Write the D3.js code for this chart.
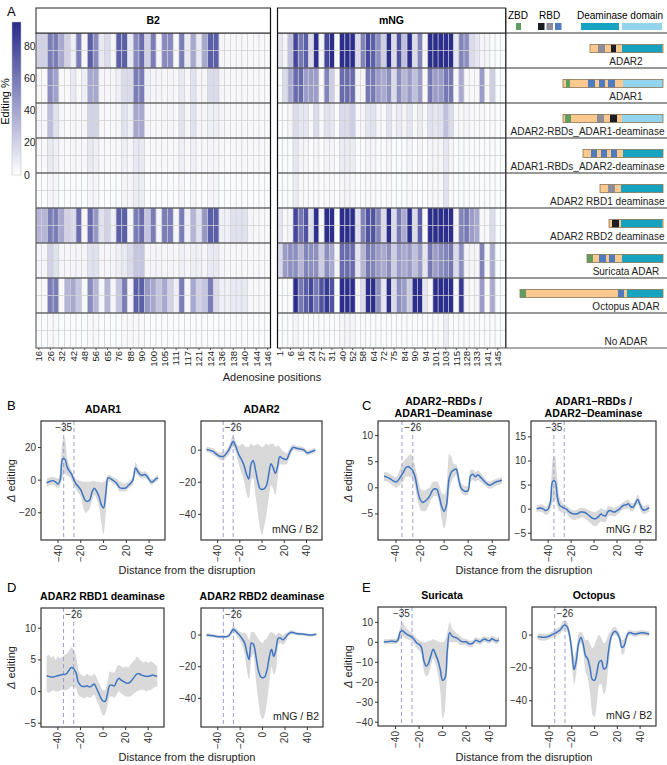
<!DOCTYPE html>
<html><head><meta charset="utf-8">
<script src="https://cdn.jsdelivr.net/npm/d3@7"></script>
<style>
body{margin:0;background:#fff;}
svg{font-family:"Liberation Sans",Arial,Helvetica,sans-serif;}
</style></head><body>
<svg id="fig" width="667" height="765"></svg>
<script>
// ================= DATA =================
const constructs = ["ADAR2","ADAR1","ADAR2-RBDs_ADAR1-deaminase","ADAR1-RBDs_ADAR2-deaminase","ADAR2 RBD1 deaminase","ADAR2 RBD2 deaminase","Suricata ADAR","Octopus ADAR","No ADAR"];
const b2Ticks = ["16","26","32","42","48","56","65","76","88","90","100","105","111","117","121","124","136","138","140","144","146"];
const mngTicks = ["1","6","16","24","27","31","40","52","58","64","72","75","84","90","94","101","103","115","128","133","141","145"];
const colorbarTicks = [0,20,40,60,80];

// editing % per column (B2 target, 41 columns)
const b2_ADAR2   = [20,20,58,58,39,20,7,58,4,72,52,10,16,4,72,72,10,52,65,20,58,4,52,52,3,58,10,39,10,39,72,72,4,3,3,3,3,3,3,3,3];
const b2_ADAR1   = [3,3,50,42,3,3,10,3,7,39,39,4,4,4,7,16,16,58,58,7,4,4,4,4,3,10,4,13,4,4,16,16,4,3,3,3,3,3,3,3,3];
const b2_A2R_A1D = [4,4,29,13,4,3,4,3,4,20,20,3,3,3,4,13,7,39,39,4,3,3,4,4,3,13,4,13,4,4,7,7,4,3,3,3,3,3,3,3,3];
const b2_A1R_A2D = [3,3,10,7,3,3,4,3,3,10,7,3,3,3,3,7,4,10,10,3,3,3,3,3,3,7,3,7,3,3,4,4,3,3,3,3,3,3,3,3,3];
const b2_RBD1    = [2,2,5,4,2,2,2,2,2,5,4,2,2,2,2,5,4,8,8,2,2,2,2,2,2,4,2,4,2,2,4,4,2,2,2,2,2,2,2,2,2];
const b2_RBD2    = [33,33,58,58,39,20,16,65,4,65,46,13,20,7,72,72,4,58,65,26,58,4,58,58,4,58,7,33,13,46,72,72,7,7,13,13,13,4,3,3,3];
const b2_Suri    = [4,4,20,13,4,4,4,4,4,13,13,4,4,4,7,10,16,26,26,4,4,4,4,4,3,7,4,7,7,4,10,10,4,3,3,3,3,3,3,3,3];
const b2_Octo    = [3,3,58,58,3,33,39,26,3,52,33,4,33,4,26,58,4,72,72,46,39,26,39,20,7,58,4,39,20,26,58,16,7,7,10,10,10,3,3,3,3];
const b2_None    = [2,2,3,3,2,2,2,2,2,3,3,2,2,2,2,3,3,3,3,2,2,2,2,2,2,2,2,2,2,2,2,2,2,2,2,2,2,2,2,2,2];

// editing % per column (mNG target, 44 columns)
const mng_ADAR2   = [11,5,28,82,60,72,16,93,5,82,93,3,93,93,93,16,55,82,72,50,22,93,16,77,28,93,16,55,5,93,93,93,93,93,11,55,50,16,11,5,5,2,2,2];
const mng_ADAR1   = [2,16,38,66,66,44,44,44,3,55,22,3,66,66,66,5,5,60,60,44,38,50,16,50,33,44,28,44,3,60,44,44,60,60,3,38,3,3,3,44,3,22,2,2];
const mng_A2R_A1D = [2,2,5,16,11,11,3,16,3,13,11,2,16,16,22,3,5,11,13,5,3,13,5,9,5,11,3,9,3,13,11,13,28,16,3,3,5,3,3,3,2,3,2,2];
const mng_A1R_A2D = [2,2,2,11,5,5,2,5,2,5,5,2,9,9,9,2,2,5,5,2,2,5,2,2,2,5,2,5,2,5,5,5,11,5,2,2,2,2,2,2,2,2,2,2];
const mng_RBD1    = [2,2,2,9,3,3,2,3,2,3,3,2,5,5,3,2,2,3,3,2,2,3,2,2,2,3,2,2,2,3,3,3,13,3,2,2,2,2,2,2,2,2,2,2];
const mng_RBD2    = [11,3,5,82,60,77,13,93,3,93,93,2,93,93,93,13,55,77,77,55,16,93,16,60,38,93,16,72,3,93,93,93,93,93,5,55,60,44,38,3,3,16,2,2];
const mng_Suri    = [16,44,50,50,33,55,50,50,22,50,38,5,66,66,66,11,33,60,55,44,38,50,22,44,38,44,28,44,11,60,44,50,55,60,16,50,5,5,5,55,3,38,2,2];
const mng_Octo    = [2,2,2,93,60,72,82,60,77,88,77,2,93,93,93,5,16,93,93,50,11,93,16,50,44,22,93,93,11,3,93,93,93,93,3,88,5,3,5,44,2,38,2,2];
const mng_None    = [2,2,2,5,2,2,2,2,2,2,2,2,5,5,5,2,2,2,2,2,2,2,2,2,2,2,2,2,2,2,2,2,9,2,2,2,2,2,2,2,2,2,2,2];

// construct domain architecture: [domain type, length in residues], N -> C
const dom_ADAR2   = [["pe",80],["gr",70],["pe",60],["bk",50],["pe",60],["te",400],["en",10]];
const dom_ADAR1   = [["pe",30],["zb",40],["pe",180],["bl",70],["pe",40],["bl",60],["pe",30],["bl",70],["pe",80],["lb",400]];
const dom_A2R_A1D = [["pe",20],["zb",60],["pe",260],["gr",70],["pe",60],["bk",70],["pe",50],["lb",410]];
const dom_A1R_A2D = [["pe",80],["bl",60],["pe",40],["bl",60],["pe",40],["bl",60],["pe",60],["te",400]];
const dom_RBD1    = [["pe",80],["gr",70],["pe",60],["te",420]];
const dom_RBD2    = [["pe",30],["bk",70],["pe",20],["te",410],["en",10]];
const dom_Suri    = [["zb",60],["pe",60],["bl",70],["pe",30],["bl",60],["pe",70],["te",410]];
const dom_Octo    = [["zb",60],["pe",920],["bl",60],["pe",30],["te",360]];
const dom_None    = [];

// Delta editing (mNG / B2) vs distance from the disruption
const xs = [-50,-48,-46,-44,-42,-40,-38,-36,-34,-32,-30,-28,-26,-24,-22,-20,-18,-16,-14,-12,-10,-8,-6,-4,-2,0,2,4,6,8,10,12,14,16,18,20,22,24,26,28,30,32,34,36,38,40,42,44,46,48];

const adar1Mean = [-1.6,-1,-0.5,-0.3,-1.2,-2.4,0.5,13,13,8,5.5,3.5,0,-2.5,-4,-6,-9.5,-12.5,-13,-12,-7,-5,-7,-10,-15,-17,-8,1.5,1,0,-1,-2.5,-4.5,-5,-5,-4.5,-3,-1.8,0.5,7.5,5.5,3.5,3,3.5,2.5,0.5,-1.2,-0.5,0.8,1.4];
const adar1Hi   = [1,1.5,2,2,1.5,1,6,24,26,14,9,6,2.5,0.5,0,-0.5,-1,-1,-1,-1,-0.5,-0.5,-1,-1,-1.5,-1,0,3.5,3,2,1.5,0.5,-1,-1.5,-2,-1.5,-1,0.5,3,11,8,6,5,5.5,4.5,2.5,0.5,1,2.5,3];
const adar1Lo   = [-4,-3.5,-3,-3,-4,-5,-3,2,4,3,2,0,-3,-6,-8,-10,-16,-20,-19,-17,-12,-9,-12,-16,-26,-33,-20,-1,-1,-2,-3,-4.5,-7,-7,-7,-6.5,-5,-4,-2,4,3,1.5,1,1.5,0.5,-1.5,-3,-2,-1,0];

const adar2Mean = [0.4,0.2,-0.3,-0.8,-2,-3,-3.8,-4,-3.5,-2,0,3,5.5,3,-1,-4,-6.5,-10,-15,-18,-9,-6.5,-12,-19,-23.8,-24.5,-24,-22,-15,-8.5,-11,-14.5,-10,-4,-5,-5.5,-5.8,-3,0,1.7,1.5,1,0.8,0.5,0,-1.5,-1.6,-1,-0.5,0];
const adar2Hi   = [2,2,1.5,1,0,-1,-1.5,-1.5,-1,0.5,2.5,6,9,6,3,3,4,3,2,2,4,3,3,4,3,2,3,4,3,4,4,2,3,2,0,-1,-2,0,2.5,3.5,3,2.5,2.5,2,1.5,0,0,0.5,1,1.5];
const adar2Lo   = [-1,-1.5,-2,-3,-4,-5,-6,-6.5,-6,-4.5,-3,0,2,-1,-6,-11,-15,-20,-27,-30,-20,-17,-28,-38,-48,-53,-47,-40,-30,-22,-24,-28,-18,-9,-9,-9,-9,-6,-2.5,0,0,-0.5,-1,-1,-1.5,-3,-3,-2.5,-2,-1.5];

const a2rA1dMean = [2.2,2.1,1.9,1.6,1.3,1.1,1.5,2.2,2.9,3.8,4.1,3.8,3.3,2,-0.5,-2.2,-2.8,-2.6,-2.2,-1.6,-0.6,-0.2,-0.3,-1.7,-3.6,-4.5,-3.3,1.5,3,3.4,3.6,1.8,0,-0.5,-0.7,-0.5,2.3,2.6,2.1,2.5,2.1,1.6,1.1,0.7,0.5,0.7,1,1.2,1.3,1.5];
const a2rA1dHi   = [3,3,2.8,2.5,2.2,2,2.8,4,5,5.5,6,6.5,5.5,4,2,0,-0.5,-0.5,-0.2,0,1,1.2,1.2,0.5,-1,-1.3,0,6.5,6,4.5,4.5,3,1,0.5,0.3,0.5,3.5,3.5,3,3.3,3,2.3,1.8,1.3,1.2,1.4,1.6,1.8,1.9,2];
const a2rA1dLo   = [1.3,1.2,1,0.7,0.3,0,0.3,0.8,1.2,2,2.2,2,1.5,0,-2.5,-4,-4.5,-4.5,-4,-3,-2,-1.5,-1.5,-3,-6,-7.8,-6,-1,1,2,2.5,0.5,-0.8,-1.3,-1.5,-1.3,1,1.5,1.2,1.5,1.2,0.8,0.4,0,-0.2,0,0.3,0.5,0.6,0.8];

const a1rA2dMean = [0.1,0.2,0.2,0,-0.3,0,1.5,5.8,5.8,2.5,0.8,0.5,0.2,0,-0.5,-0.8,-1,-1,-0.9,-0.6,-0.6,-0.7,-1,-1.4,-1.8,-2,-1.9,-1.5,-1,-1.3,-1.4,-0.5,-0.3,-0.5,-0.6,-0.3,0,0.5,0.8,0.9,1.1,0.5,0.4,1.2,2,1,0,-0.2,0,0.3];
const a1rA2dHi   = [0.8,0.9,1,0.8,0.5,1,3,10.5,11,6,2.5,1.5,1,0.7,0.3,0,-0.2,-0.2,0,0.3,0.3,0.2,0,-0.3,-0.5,-0.6,-0.5,-0.2,0.2,0,-0.2,0.5,0.6,0.4,0.3,0.5,0.8,1.2,1.6,1.8,2,1.3,1.2,2,3,2,0.8,0.6,0.8,1];
const a1rA2dLo   = [-0.6,-0.5,-0.6,-0.8,-1.2,-1,0,1.5,2,0.5,-0.5,-0.7,-0.7,-0.9,-1.5,-2,-2.2,-2.2,-2,-1.8,-1.7,-2,-2.3,-2.7,-3.2,-3.5,-3.5,-3,-2.5,-2.7,-2.7,-1.6,-1.3,-1.4,-1.5,-1.1,-0.8,-0.3,0,0,0.2,-0.4,-0.5,0.4,1,0,-0.8,-1,-0.8,-0.5];

const rbd1Mean = [2.5,2.4,2.3,2.3,2.4,2.5,2.6,2.7,2.7,2.9,3.4,3.8,3.6,3,1.5,1,0.8,0.8,0.9,0.7,0.9,1.2,0.6,-0.2,-1,-1.5,-1.5,-0.3,1,1,0.9,1.6,2.1,1.8,1.6,1.4,1.3,1.5,1.9,2.4,2.8,2.8,2.6,2.5,2.4,2.4,2.5,2.6,2.5,2.4];
const rbd1Hi   = [5.5,5.8,5.3,5.6,5,5.5,5.3,5.5,5.8,6,6.5,7,6.5,5.8,3.5,2.8,2.5,2.5,2.8,2.5,2.5,2.8,2.3,1.5,0.8,0.2,0.3,1.5,3.2,3,3,3.8,4.2,4,3.8,4,3.8,4.2,4.6,5,5.5,5.2,4.8,4.6,4.8,4.5,4.8,4.6,4.3,4];
const rbd1Lo   = [0,-0.2,0,0.2,0,0,0.2,0.3,0.2,0.3,0.5,0.8,0.8,0.5,-0.5,-0.8,-1,-1,-0.8,-1,-0.8,-0.5,-1.2,-2,-3,-3.8,-3.5,-2.2,-0.8,-0.8,-1,-0.5,0,-0.3,-0.5,-0.8,-0.8,-0.8,-0.5,-0.2,0,0.2,0.3,0.3,0,0.2,0.2,0.5,0.7,0.8];

const rbd2Mean = [0,-0.1,-0.3,-0.5,-0.8,-1,-1,-1,-1,-1,-0.3,1.8,3.6,2.5,1,-0.5,-2.5,-5,-11,-15.5,-5,-6,-13,-21.5,-26,-27,-26.3,-22,-14,-9,-13.5,-9,-2,-1.8,-3,-2,0,1.2,1.7,1.4,1,0.8,0.7,0.6,0.4,0.2,0,0,0.3,0.6];
const rbd2Hi   = [1,1,0.8,0.5,0.3,0,0,0,0,0,1,3.5,6,4.5,3,2,1.5,1.5,0,-3,2,2,0,-2,-4,-5,-3,-2,1,2,1,0,1.5,1,0,1,1.5,2.5,3,2.5,2,1.8,1.6,1.5,1.3,1,0.8,0.8,1.2,1.5];
const rbd2Lo   = [-1,-1.2,-1.3,-1.6,-1.8,-2,-2.2,-2.2,-2,-2,-1.5,0,1.5,0.5,-1.5,-3.5,-7,-12,-22,-28,-14,-12,-28,-40,-50,-53,-50,-42,-30,-20,-25,-22,-6,-5,-6,-5,-2,-0.3,0.3,0.3,0,-0.2,-0.3,-0.3,-0.5,-0.8,-1,-0.8,-0.6,-0.3];

const suriMean = [0.2,0.3,0.4,0.5,0.5,0.3,1.2,5.2,5.8,4.7,3.9,3.3,2.6,1.3,-0.3,-1,-2.5,-9,-12,-10.5,-6.7,-3.5,-6,-9,-13.5,-19,-18,-4,4.8,3.2,2.6,2.2,1.3,0.5,0.3,0.3,-0.6,-0.8,-0.3,1,0.7,0.3,1.2,1.7,1,0.8,1.8,1.2,0.7,1.3];
const suriHi   = [1.5,1.5,1.6,1.8,1.8,1.6,3,8,10,8,6.5,5.5,4.8,3.5,2,1,0.5,0,0,0.5,1,1.5,1,0.5,0,0,1,5,10,7,5.5,4.5,3.5,2.5,1.8,1.8,1,0.8,1.2,2.5,2.2,1.8,2.8,3.2,2.5,2.3,3.3,2.7,2.2,2.8];
const suriLo   = [-1,-1,-0.8,-0.8,-0.8,-1,-0.5,1.5,3,2,1.5,1,0.5,-1,-3,-4,-6,-14,-17,-16,-12,-8,-11,-16,-24,-38,-34,-14,0,0,0,0,-0.8,-1.5,-1.3,-1.2,-2.2,-2.5,-1.8,-0.5,-0.8,-1.2,-0.3,0.2,-0.5,-0.7,0.3,-0.3,-0.8,-0.2];

const octoMean = [-1,-1.1,-1.3,-1.4,-1.1,-0.7,0,0.7,1.3,2.3,3.3,5.3,6.2,5,0,-10,-21,-15.5,-5,-1.5,-5.5,-12.5,-14.5,-20,-27,-27.5,-23,-16.5,-15.5,-20.5,-20,-11,-2.5,1.2,2.4,1,-2,-7.5,-6.5,-1.3,1.3,1.4,0.8,0.6,1,1.3,1.4,1.2,1,0.7];
const octoHi   = [1,1,0.8,0.6,0.8,1,2,2.8,3.5,4.5,5.5,8,9,8,3,-3,-13,-8,1,2,0,-3,-3,-5,-8,-6,-2,0,-2,-5,-4,0,2,4.5,5,3.5,1,-3,-2.5,1,3,3,2.5,2.3,2.6,2.9,3,2.8,2.5,2.2];
const octoLo   = [-3,-3.2,-3.4,-3.5,-3,-2.5,-2,-1.5,-1,0,1,2.5,3.5,2,-3,-18,-30,-23,-10,-5,-10,-22,-26,-35,-48,-50,-42,-30,-30,-36,-33,-20,-8,-0.5,0,-1,-4,-12,-11,-4,-0.5,-0.2,-0.8,-1,-0.6,-0.3,-0.2,-0.4,-0.5,-0.8];

// ================= DRAWING =================
const svg = d3.select("#fig");
const fill = d3.scaleLinear().domain([0,95]).range(["#ffffff","#272a8c"]).interpolate(d3.interpolateRgb).clamp(true);
const fmt = t => t < 0 ? "\u2212" + Math.abs(t) : String(t);

// ---- Panel A ----
svg.append("text").attr("x",7).attr("y",16).attr("font-size",13).text("A");

// colour bar
const cb = d3.scaleLinear().domain([0,95]).range([175,22]);
const defs = svg.append("defs");
const lg = defs.append("linearGradient").attr("id","cbg").attr("x1",0).attr("y1",1).attr("x2",0).attr("y2",0);
d3.range(0,1.0001,0.1).forEach(t=>lg.append("stop").attr("offset",t).attr("stop-color",fill(t*95)));
svg.append("rect").attr("x",12).attr("y",cb(95)).attr("width",9).attr("height",cb(0)-cb(95)).attr("fill","url(#cbg)").attr("stroke","#bbb").attr("stroke-width",0.5);
colorbarTicks.forEach(t=>{
  svg.append("text").attr("x",24).attr("y",cb(t)).attr("dy","0.35em").attr("font-size",10.5).attr("fill","#222").text(t);
});
svg.append("text").attr("transform",`translate(9,${(cb(0)+cb(95))/2+3}) rotate(-90)`).attr("text-anchor","middle").attr("font-size",11).text("Editing %");

const hmTop = 33, facetH = 35;
const yF = d3.scaleBand().domain(constructs).range([hmTop, hmTop + facetH*constructs.length]);
const hmBottom = hmTop + facetH*constructs.length;
const b2Rows = [b2_ADAR2,b2_ADAR1,b2_A2R_A1D,b2_A1R_A2D,b2_RBD1,b2_RBD2,b2_Suri,b2_Octo,b2_None];
const mngRows = [mng_ADAR2,mng_ADAR1,mng_A2R_A1D,mng_A1R_A2D,mng_RBD1,mng_RBD2,mng_Suri,mng_Octo,mng_None];
const hmPanels = [
  {name:"B2", x0:36, x1:270.5, rows:b2Rows, ticks:b2Ticks},
  {name:"mNG", x0:277.5, x1:505.5, rows:mngRows, ticks:mngTicks}
];
hmPanels.forEach(p=>{
  const n = p.rows[0].length;
  const xb = d3.scaleBand().domain(d3.range(n)).range([p.x0,p.x1]);
  const g = svg.append("g");
  constructs.forEach((c,ci)=>{
    [0,1].forEach(rep=>{
      g.selectAll(null).data(p.rows[ci]).enter().append("rect")
        .attr("x",(d,i)=>xb(i)).attr("y",yF(c)+rep*facetH/2)
        .attr("width",xb.bandwidth()).attr("height",facetH/2)
        .attr("fill",d=>fill(d)).attr("stroke","#d0d0d0").attr("stroke-width",0.6);
    });
  });
  constructs.forEach((c,ci)=>{ if(ci>0) g.append("line").attr("x1",p.x0).attr("x2",p.x1).attr("y1",yF(c)).attr("y2",yF(c)).attr("stroke","#333").attr("stroke-width",1); });
  g.append("rect").attr("x",p.x0).attr("y",hmTop).attr("width",p.x1-p.x0).attr("height",hmBottom-hmTop).attr("fill","none").attr("stroke","#555").attr("stroke-width",1);
  g.append("rect").attr("x",p.x0).attr("y",8).attr("width",p.x1-p.x0).attr("height",hmTop-8).attr("fill","#fff").attr("stroke","#222").attr("stroke-width",1);
  g.append("text").attr("x",(p.x0+p.x1)/2).attr("y",24).attr("text-anchor","middle").attr("font-size",10.5).attr("font-weight","bold").text(p.name);
  d3.range(0,n,2).forEach((ci,k)=>{
    const cx = xb(ci)+xb.bandwidth()/2;
    g.append("line").attr("x1",cx).attr("x2",cx).attr("y1",hmBottom).attr("y2",hmBottom+2).attr("stroke","#555");
    g.append("text").attr("transform",`translate(${cx},${hmBottom+3}) rotate(-90)`).attr("text-anchor","end").attr("dy","0.35em").attr("font-size",9.5).attr("fill","#222").text(p.ticks[k]);
  });
});
[270.5,277.5].forEach(x=>svg.append("line").attr("x1",x).attr("x2",x).attr("y1",8).attr("y2",hmBottom).attr("stroke","#111").attr("stroke-width",1.2));
svg.append("text").attr("x",272).attr("y",381).attr("text-anchor","middle").attr("font-size",11).attr("fill","#222").text("Adenosine positions");

// ---- construct panel ----
const domColor = {pe:"#fbc98d", zb:"#5e9e5e", gr:"#8c8c9c", bk:"#1d1d25", bl:"#4f7cc0", te:"#16a3bf", lb:"#91d4ec", en:"#d9b77e"};
const rp = svg.append("g");
rp.append("line").attr("x1",506).attr("x2",506).attr("y1",8).attr("y2",hmBottom).attr("stroke","#333").attr("stroke-width",1);
constructs.forEach((c,ci)=>{ rp.append("line").attr("x1",506).attr("x2",667).attr("y1",yF(c)).attr("y2",yF(c)).attr("stroke","#333").attr("stroke-width",1); });
rp.append("line").attr("x1",506).attr("x2",667).attr("y1",hmBottom).attr("y2",hmBottom).attr("stroke","#555").attr("stroke-width",1);
rp.append("text").attr("x",508).attr("y",19).attr("font-size",10).text("ZBD");
rp.append("rect").attr("x",516).attr("y",23).attr("width",5).attr("height",7).attr("fill",domColor.zb);
rp.append("text").attr("x",539).attr("y",19).attr("font-size",10).text("RBD");
["bk","gr","bl"].forEach((k,i)=>rp.append("rect").attr("x",538+i*8.5).attr("y",23).attr("width",6.5).attr("height",7).attr("fill",domColor[k]));
rp.append("text").attr("x",577).attr("y",19).attr("font-size",10).text("Deaminase domain");
rp.append("rect").attr("x",581).attr("y",23).attr("width",38).attr("height",7).attr("fill",domColor.te);
rp.append("rect").attr("x",622).attr("y",23).attr("width",40).attr("height",7).attr("fill",domColor.lb);

const doms = [dom_ADAR2,dom_ADAR1,dom_A2R_A1D,dom_A1R_A2D,dom_RBD1,dom_RBD2,dom_Suri,dom_Octo,dom_None];
const aaScale = d3.scaleLinear().domain([0,1430]).range([0,143]);
const rightEnd = 663;
constructs.forEach((c,ci)=>{
  const segs = doms[ci];
  const top = yF(c);
  if(segs.length){
    const total = d3.sum(segs,s=>s[1]);
    let acc = 0;
    const x0 = rightEnd - aaScale(total);
    segs.forEach(s=>{
      rp.append("rect").attr("x",x0+aaScale(acc)).attr("y",top+11.5).attr("width",aaScale(s[1])).attr("height",8).attr("fill",domColor[s[0]]);
      acc += s[1];
    });
    rp.append("rect").attr("x",x0).attr("y",top+11.5).attr("width",aaScale(total)).attr("height",8).attr("fill","none").attr("stroke","#8a7656").attr("stroke-width",0.8);
  }
  const t = rp.append("text").attr("y",top+31.5).attr("text-anchor","middle").attr("font-size",10).attr("fill","#222").text(c);
  const w = t.node().getComputedTextLength();
  t.attr("x", Math.min(626, 664.5 - w/2));
});

// ---- delta editing panels ----
const deltaPanels = [
  {id:"b1", mean:adar1Mean, hi:adar1Hi, lo:adar1Lo, box:[41,165,421,540], yd:[-36.7,36.3], yt:[-20,0,20], title:["ADAR1"], mark:-35, ylab:true, ratio:false},
  {id:"b2", mean:adar2Mean, hi:adar2Hi, lo:adar2Lo, box:[201,322,421,540], yd:[-56,18.2], yt:[-40,-20,0], title:["ADAR2"], mark:-26, ylab:false, ratio:true},
  {id:"c1", mean:a2rA1dMean, hi:a2rA1dHi, lo:a2rA1dLo, box:[378,509,421,540], yd:[-10,12.8], yt:[-5,0,5,10], title:["ADAR2\u2212RBDs /","ADAR1\u2212Deaminase"], mark:-26, ylab:true, ratio:false},
  {id:"c2", mean:a1rA2dMean, hi:a1rA2dHi, lo:a1rA2dLo, box:[531,656,421,540], yd:[-6.4,18.3], yt:[-5,0,5,10,15], title:["ADAR1\u2212RBDs /","ADAR2\u2212Deaminase"], mark:-35, ylab:false, ratio:true},
  {id:"d1", mean:rbd1Mean, hi:rbd1Hi, lo:rbd1Lo, box:[41,164,608,727], yd:[-5.6,13.2], yt:[-5,0,5,10], title:["ADAR2 RBD1 deaminase"], mark:-26, ylab:true, ratio:false},
  {id:"d2", mean:rbd2Mean, hi:rbd2Hi, lo:rbd2Lo, box:[201,323,608,727], yd:[-58.1,17.1], yt:[-40,-20,0], title:["ADAR2 RBD2 deaminase"], mark:-26, ylab:false, ratio:true},
  {id:"e1", mean:suriMean, hi:suriHi, lo:suriLo, box:[378,506,607,726], yd:[-41.9,17.7], yt:[-40,-30,-20,-10,0,10], title:["Suricata"], mark:-35, ylab:true, ratio:false},
  {id:"e2", mean:octoMean, hi:octoHi, lo:octoLo, box:[532,656,607,726], yd:[-55.4,17.1], yt:[-40,-20,0], title:["Octopus"], mark:-26, ylab:false, ratio:true}
];
const xTicks = [-40,-20,0,20,40];
const guides = [-35,-26];
deltaPanels.forEach(p=>{
  const [x0,x1,y0,y1] = p.box;
  const x = d3.scaleLinear().domain([-54.95,53.95]).range([x0,x1]);
  const y = d3.scaleLinear().domain(p.yd).range([y1,y0]);
  const g = svg.append("g");
  defs.append("clipPath").attr("id","clip-"+p.id).append("rect").attr("x",x0).attr("y",y0).attr("width",x1-x0).attr("height",y1-y0);
  const pts = xs.map((v,i)=>({x:v, m:p.mean[i], lo:p.lo[i], hi:p.hi[i]}));
  const pg = g.append("g").attr("clip-path",`url(#clip-${p.id})`);
  pg.append("path").datum(pts)
    .attr("d",d3.area().x(d=>x(d.x)).y0(d=>y(d.lo)).y1(d=>y(d.hi)).curve(d3.curveMonotoneX))
    .attr("fill","#d9d9d9");
  guides.forEach(v=>pg.append("line").attr("x1",x(v)).attr("x2",x(v)).attr("y1",y0).attr("y2",y1)
    .attr("stroke","#9a9fd2").attr("stroke-width",1).attr("stroke-dasharray","4,3"));
  pg.append("path").datum(pts)
    .attr("d",d3.line().x(d=>x(d.x)).y(d=>y(d.m)).curve(d3.curveCatmullRom.alpha(0.5)))
    .attr("fill","none").attr("stroke","#3e75c3").attr("stroke-width",1.5);
  g.append("text").attr("x",x(p.mark)).attr("y",y0+10).attr("text-anchor","middle").attr("font-size",10).attr("fill","#333").text(fmt(p.mark));
  if(p.ratio) g.append("text").attr("x",x1-4).attr("y",y1-7).attr("text-anchor","end").attr("font-size",10.5).attr("fill","#222").text("mNG / B2");
  g.append("rect").attr("x",x0).attr("y",y0).attr("width",x1-x0).attr("height",y1-y0).attr("fill","none").attr("stroke","#222").attr("stroke-width",1.1);
  p.yt.forEach(t=>{
    g.append("line").attr("x1",x0-3).attr("x2",x0).attr("y1",y(t)).attr("y2",y(t)).attr("stroke","#333");
    g.append("text").attr("x",x0-5).attr("y",y(t)).attr("dy","0.35em").attr("text-anchor","end").attr("font-size",10).attr("fill","#333").text(fmt(t));
  });
  xTicks.forEach(t=>{
    g.append("line").attr("x1",x(t)).attr("x2",x(t)).attr("y1",y1).attr("y2",y1+3).attr("stroke","#333");
    g.append("text").attr("transform",`translate(${x(t)},${y1+5}) rotate(-90)`).attr("text-anchor","end").attr("dy","0.35em").attr("font-size",10).attr("fill","#333").text(fmt(t));
  });
  const cx = (x0+x1)/2;
  if(p.title.length===1){
    g.append("text").attr("x",cx).attr("y",y0-8).attr("text-anchor","middle").attr("font-size",10.5).attr("font-weight","bold").text(p.title[0]);
  } else {
    p.title.forEach((s,i)=>g.append("text").attr("x",cx).attr("y",y0-16.5+i*12.5).attr("text-anchor","middle").attr("font-size",10.5).attr("font-weight","bold").text(s));
  }
  if(p.ylab){
    const tl = g.append("text").attr("transform",`translate(${x0-26},${(y0+y1)/2}) rotate(-90)`).attr("text-anchor","middle").attr("font-size",11).attr("fill","#222");
    tl.append("tspan").attr("font-style","italic").text("\u0394");
    tl.append("tspan").text(" editing");
  }
});
[[187,574],[524,574],[187,761],[524,761]].forEach(([cx,cy])=>svg.append("text").attr("x",cx).attr("y",cy).attr("text-anchor","middle").attr("font-size",11).attr("fill","#222").text("Distance from the disruption"));
[["B",7,410],["C",362,410],["D",7,592],["E",362,592]].forEach(([l,x,y])=>svg.append("text").attr("x",x).attr("y",y).attr("font-size",13).text(l));
</script>
</body></html>
